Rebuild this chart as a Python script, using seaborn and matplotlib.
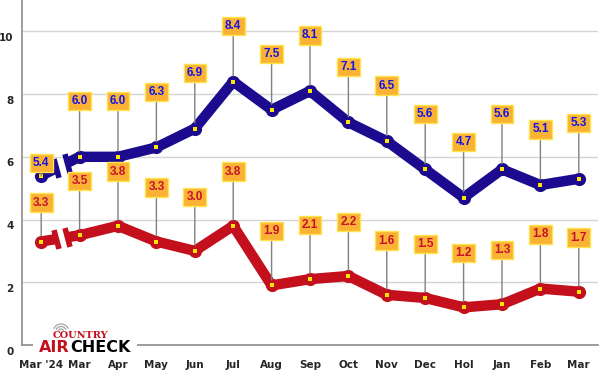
import matplotlib
matplotlib.use("Agg")
import matplotlib.pyplot as plt
from matplotlib.patches import Arc, Rectangle
from matplotlib.transforms import ScaledTranslation
import seaborn as sns
import pandas as pd

months = ["Mar '24", "Mar", "Apr", "May", "Jun", "Jul", "Aug", "Sep", "Oct",
          "Nov", "Dec", "Hol", "Jan", "Feb", "Mar"]
blue_vals = [5.4, 6.0, 6.0, 6.3, 6.9, 8.4, 7.5, 8.1, 7.1, 6.5, 5.6, 4.7, 5.6, 5.1, 5.3]
red_vals = [3.3, 3.5, 3.8, 3.3, 3.0, 3.8, 1.9, 2.1, 2.2, 1.6, 1.5, 1.2, 1.3, 1.8, 1.7]
y_ticks = [0, 2, 4, 6, 8, 10]

BLUE = "#1c0b8e"
RED = "#c40f1c"
BLUE_TXT = "#1414e6"
RED_TXT = "#c8102e"

sns.set_theme(style="white")
plt.rcParams["font.family"] = ["DejaVu Sans"]

fig = plt.figure(figsize=(6, 3.75), dpi=100)
ax = fig.add_axes([22 / 600, 30 / 375, 576 / 600, 345 / 375])

n = len(months)
df = pd.DataFrame({"idx": list(range(n)), "blue": blue_vals, "red": red_vals})
rest = df.iloc[1:]
first = df.iloc[:1]

for col, color in [("blue", BLUE), ("red", RED)]:
    sns.lineplot(data=rest, x="idx", y=col, ax=ax, color=color, linewidth=7.5,
                 solid_capstyle="round", solid_joinstyle="round", zorder=3)
    # break stubs computed from data
    x0, x1 = first["idx"].iloc[0], rest["idx"].iloc[0]
    y0, y1 = first[col].iloc[0], rest[col].iloc[0]
    a = 0.38
    b = 0.68
    ya = y0 + (y1 - y0) * a
    yb = y0 + (y1 - y0) * b
    ax.plot([x0, x0 + a], [y0, ya], color=color, lw=7.5, solid_capstyle="butt", zorder=3)
    ax.plot([x0 + b, x1], [yb, y1], color=color, lw=7.5, solid_capstyle="butt", zorder=3)
    ax.plot([x0 + a, x0 + b], [ya, yb], ls="none", marker=(2, 0, 15), ms=14, mew=4,
            color=color, zorder=3)
    sns.scatterplot(data=df, x="idx", y=col, ax=ax, color=color, s=90, linewidth=0,
                    zorder=4, legend=False)
    sns.scatterplot(data=df, x="idx", y=col, ax=ax, color="#ffe600", marker="s", s=10,
                    linewidth=0, zorder=5, legend=False)


def label(i, v, txtcolor, off):
    ax.annotate(f"{v:.1f}", xy=(i, v), xytext=(0, off), textcoords="offset points",
                ha="center", va="center", fontsize=8.5, fontweight="bold", color=txtcolor,
                family="Liberation Sans",
                bbox=dict(boxstyle="square,pad=0.27", fc="#f9b233", ec="#ffe44d", lw=1),
                arrowprops=dict(arrowstyle="-", color="#808080", lw=1, shrinkA=0, shrinkB=4),
                zorder=6)


for i, v in enumerate(blue_vals):
    label(i, v, BLUE_TXT, 9 if i == 0 else 40)
for i, v in enumerate(red_vals):
    label(i, v, RED_TXT, 28 if i == 0 else 39)

ax.set_xlim(-0.5, n - 0.5)
ax.set_ylim(0, 11)
ax.set_yticks(y_ticks)
ax.set_yticklabels([str(t) for t in y_ticks], fontsize=7.5, fontweight="bold")
ax.set_xticks(range(n))
ax.set_xticklabels(months, fontsize=7.5, fontweight="bold")
ax.set_xlabel("")
ax.set_ylabel("")
ax.grid(axis="y", color="#d4d4d4", lw=1)
ax.set_axisbelow(True)
for s in ["top", "right"]:
    ax.spines[s].set_visible(False)
for s in ["left", "bottom"]:
    ax.spines[s].set_color("#8c8c8c")
    ax.spines[s].set_linewidth(1.2)
ax.tick_params(axis="x", direction="in", length=8, color="#8c8c8c", width=1, pad=11)
ax.tick_params(axis="y", length=0, pad=6)
for lbl in ax.get_yticklabels():
    lbl.set_transform(lbl.get_transform() + ScaledTranslation(0, -4 / 72, fig.dpi_scale_trans))

# logo
fig.patches.append(Rectangle((33 / 600, 1 - 356 / 375), 104 / 600, 36 / 375,
                             transform=fig.transFigure, fc="white", ec="none", zorder=10))
fig.text(80 / 600, 1 - 336 / 375, "COUNTRY", color=RED, fontsize=7, fontweight="bold",
         ha="center", va="center", zorder=11, family="DejaVu Serif")
fig.text(70 / 600, 1 - 347 / 375, "AIR", color=RED, fontsize=11.5, fontweight="bold",
         ha="right", va="center", zorder=11)
fig.text(70 / 600, 1 - 347 / 375, "CHECK", color="black", fontsize=11.5, fontweight="bold",
         ha="left", va="center", zorder=11)
for r in [6, 11, 16]:
    fig.patches.append(Arc((61 / 600, 1 - 332 / 375), r / 600, r / 375,
                           theta1=35, theta2=145, transform=fig.transFigure,
                           color="#9a9a9a", lw=0.8, zorder=11))

fig.savefig("out.png", dpi=100)
